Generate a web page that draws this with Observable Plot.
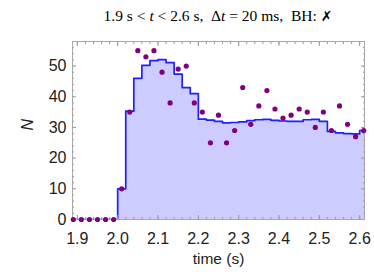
<!DOCTYPE html>
<html>
<head>
<meta charset="utf-8">
<script src="https://cdn.jsdelivr.net/npm/d3@7"></script>
<script src="https://cdn.jsdelivr.net/npm/@observablehq/plot@0.6"></script>
<style>
  html, body { margin: 0; padding: 0; background: #fff; }
  #wrap { position: relative; width: 374px; height: 278px; }
  #title { position: absolute; left: 0; top: 7px; width: 436px; text-align: center;
           font-family: "Liberation Serif", "Times New Roman", serif; font-size: 15.5px; color: #000; white-space: pre; }
  #title .x { font-family: "DejaVu Sans", sans-serif; font-weight: bold; font-size: 14px; }
</style>
</head>
<body>
<div id="wrap">
  <div id="title">1.9 s &lt; <i>t</i> &lt; 2.6 s,  Δ<i>t</i> = 20 ms,  BH: <span class="x">✗</span></div>
</div>
<script>
const binCenters = [1.89,1.91,1.93,1.95,1.97,1.99,2.01,2.03,2.05,2.07,2.09,2.11,2.13,2.15,2.17,2.19,2.21,2.23,2.25,2.27,2.29,2.31,2.33,2.35,2.37,2.39,2.41,2.43,2.45,2.47,2.49,2.51,2.53,2.55,2.57,2.59,2.61];
const counts = [0,0,0,0,0,0,10,35,55,53,55,48,38,49,50,38,35,25,34,25,29,43,31,37,42,36,33,34,36,35,30,35,29,37,31,27,29];
const smoothed = [0,0,0,0,0,0,10,35.3,46,50.2,51.8,52.1,51.1,47.4,43,41,32.7,32.4,32,31.5,31.6,31.8,32.2,32.5,32.6,32.3,32.1,32,32,32.5,32.6,32,28.7,28.2,28,27.9,29];
const binWidth = 0.02;
const xTickValues = [1.9,2.0,2.1,2.2,2.3,2.4,2.5,2.6];
const xTickLabels = ["1.9","2.0","2.1","2.2","2.3","2.4","2.5","2.6"];
const yTickValues = [0,10,20,30,40,50];
const yTickLabels = ["0","10","20","30","40","50"];
const xLabel = "time (s)";
const yLabel = "N";

const xMinor = d3.range(1.9, 2.6001, 0.02).map(v => +v.toFixed(2));
const yMinor = d3.range(0, 58.01, 2);

const points = binCenters.map((t, i) => ({t, n: counts[i]}));
const steps = binCenters.flatMap((t, i) => [
  {x: +(t - binWidth / 2).toFixed(4), y: smoothed[i]},
  {x: +(t + binWidth / 2).toFixed(4), y: smoothed[i]}
]);

const tickColor = "#999";
const noText = () => "";

const chart = Plot.plot({
  width: 374,
  height: 278,
  marginLeft: 72,
  marginRight: 10,
  marginTop: 41,
  marginBottom: 59,
  x: {domain: [1.888, 2.612], label: null},
  y: {domain: [0, 58], label: null},
  style: {fontFamily: "'Liberation Sans', Arial, sans-serif", fontSize: "16px", color: "#222", background: "transparent"},
  marks: [
    Plot.areaY(steps, {x: "x", y1: 0, y2: "y", fill: "#ccccff", clip: true}),
    Plot.lineY(steps, {x: "x", y: "y", stroke: "#1f1fff", strokeWidth: 1.7, clip: true}),
    // minor ticks
    Plot.axisX({ticks: xMinor, anchor: "bottom", tickSize: -2, tickFormat: noText, label: null, stroke: tickColor}),
    Plot.axisX({ticks: xMinor, anchor: "top", tickSize: -2, tickFormat: noText, label: null, stroke: tickColor}),
    Plot.axisY({ticks: yMinor, anchor: "left", tickSize: -2, tickFormat: noText, label: null, stroke: tickColor}),
    Plot.axisY({ticks: yMinor, anchor: "right", tickSize: -2, tickFormat: noText, label: null, stroke: tickColor}),
    // major ticks
    Plot.axisX({ticks: xTickValues, anchor: "bottom", tickSize: -4, tickFormat: noText, label: null, stroke: tickColor}),
    Plot.axisX({ticks: xTickValues, anchor: "top", tickSize: -4, tickFormat: noText, label: null, stroke: tickColor}),
    Plot.axisY({ticks: yTickValues, anchor: "left", tickSize: -4, tickFormat: noText, label: null, stroke: tickColor}),
    Plot.axisY({ticks: yTickValues, anchor: "right", tickSize: -4, tickFormat: noText, label: null, stroke: tickColor}),
    // labels
    Plot.axisX({ticks: xTickValues, anchor: "bottom", tickSize: 0, tickPadding: 13,
      tickFormat: d => xTickLabels[xTickValues.findIndex(v => Math.abs(v - d) < 1e-9)], label: null, fill: "#222"}),
    Plot.axisY({ticks: yTickValues, anchor: "left", tickSize: 0, tickPadding: 6,
      tickFormat: d => yTickLabels[yTickValues.indexOf(d)], label: null, fill: "#222"}),
    Plot.frame({stroke: "#a8a8a8"}),
    Plot.dot(points, {x: "t", y: "n", r: 2.6, fill: "#800080", stroke: "none"}),
    Plot.text([xLabel], {frameAnchor: "bottom", dy: 44, fontSize: 15.5, fill: "#222"}),
    Plot.text([yLabel], {frameAnchor: "left", dx: -45, rotate: -90, fontSize: 16, fontStyle: "italic", fill: "#222"})
  ]
});
document.getElementById("wrap").appendChild(chart);
chart.style.position = "absolute";
chart.style.left = "0";
chart.style.top = "0";
document.getElementById("title").style.zIndex = "2";
</script>
</body>
</html>
